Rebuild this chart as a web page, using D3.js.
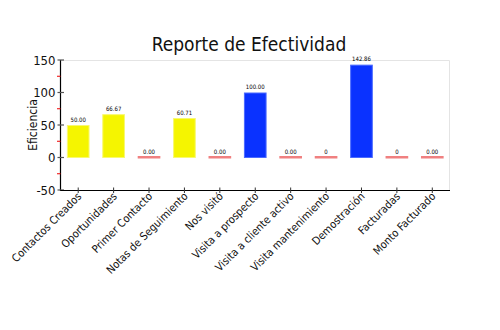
<!DOCTYPE html>
<html><head><meta charset="utf-8">
<script src="https://cdn.jsdelivr.net/npm/d3@7"></script>
<style>body{margin:0;background:#fff;} text{font-family:"DejaVu Sans Condensed","DejaVu Sans",sans-serif;font-stretch:condensed;}</style>
</head><body>
<svg id="c" width="500" height="330"></svg>
<script>
const categories = ["Contactos Creados","Oportunidades","Primer Contacto","Notas de Seguimiento","Nos visitó","Visita a prospecto","Visita a cliente activo","Visita mantenimiento","Demostración","Facturadas","Monto Facturado"];
const values = [50.00, 66.67, 0.00, 60.71, 0.00, 100.00, 0.00, 0, 142.86, 0, 0.00];
const labels = ["50.00","66.67","0.00","60.71","0.00","100.00","0.00","0","142.86","0","0.00"];
const colorClass = ["y","y","r","y","r","b","r","r","b","r","r"];
const yTicks = [-50, 0, 50, 100, 150];
const yMinor = [-25, 25, 75, 125];

const fills = {y:"#f5f500", b:"#0a32ff", r:"#f08080"};
const strokes = {y:"#f8f870", b:"#4a6aff", r:"#f08080"};

const svg = d3.select("#c");
const L = 60.5, R = 450, T = 60, B = 190;
const x = d3.scaleBand().domain(categories).range([L, R]).paddingInner(0.36).paddingOuter(0.18);
const y = d3.scaleLinear().domain([-50, 150]).range([B, T]);

svg.append("path").attr("d", `M${L},${T+0.5}H${R-0.5}V${B}`).attr("fill","none").attr("stroke","#e4e4e4");
svg.append("text").attr("x",249).attr("y",51).attr("text-anchor","middle").attr("font-size",19).attr("fill","#111").text("Reporte de Efectividad");

categories.forEach((c,i)=>{
  const v = values[i];
  const k = colorClass[i];
  if (v === 0) {
    svg.append("rect").attr("x", x(c)).attr("y", y(0)-1.5).attr("width", x.bandwidth()).attr("height", 2.5).attr("fill", fills[k]);
  } else {
    svg.append("rect").attr("x", x(c)+0.5).attr("y", y(v)+0.5).attr("width", x.bandwidth()-1).attr("height", y(0)-y(v)-0.5)
      .attr("fill", fills[k]).attr("stroke", strokes[k]).attr("stroke-width",1);
  }
  svg.append("text").attr("x", x(c)+x.bandwidth()/2).attr("y", (v===0? y(0)-3.5 : y(v)-3.5)).attr("text-anchor","middle")
    .attr("font-size",6).attr("fill","#000").text(labels[i]);
});

const ya = svg.append("g");
ya.append("line").attr("x1",L).attr("x2",L).attr("y1",T).attr("y2",B+1).attr("stroke","#000").attr("stroke-width",1.2);
yMinor.forEach(v=>ya.append("line").attr("x1",L-3.5).attr("x2",L).attr("y1",y(v)).attr("y2",y(v)).attr("stroke","#e00").attr("stroke-width",1));
yTicks.forEach(v=>{
  ya.append("line").attr("x1",L-3).attr("x2",L+3.5).attr("y1",y(v)).attr("y2",y(v)).attr("stroke","#555").attr("stroke-width",1.2);
  ya.append("text").attr("x",L-5).attr("y",y(v)).attr("dy","0.36em").attr("text-anchor","end").attr("font-size",13).attr("fill","#111").text(v);
});
svg.append("text").attr("transform",`translate(33,125) rotate(-90)`).attr("text-anchor","middle").attr("dy","0.35em").attr("font-size",12).attr("fill","#111").text("Eficiencia");

const xa = svg.append("g");
xa.append("line").attr("x1",L).attr("x2",R).attr("y1",B+0.5).attr("y2",B+0.5).attr("stroke","#000").attr("stroke-width",1.2);
categories.forEach(c=>{
  const cx = x(c)+x.bandwidth()/2;
  xa.append("line").attr("x1",cx).attr("x2",cx).attr("y1",B-2.5).attr("y2",B+3).attr("stroke","#333").attr("stroke-width",1);
  xa.append("text").attr("transform",`translate(${cx+4},${B+7}) rotate(-45)`).attr("text-anchor","end").attr("font-size",11).attr("fill","#111").text(c);
});
</script>
</body></html>
